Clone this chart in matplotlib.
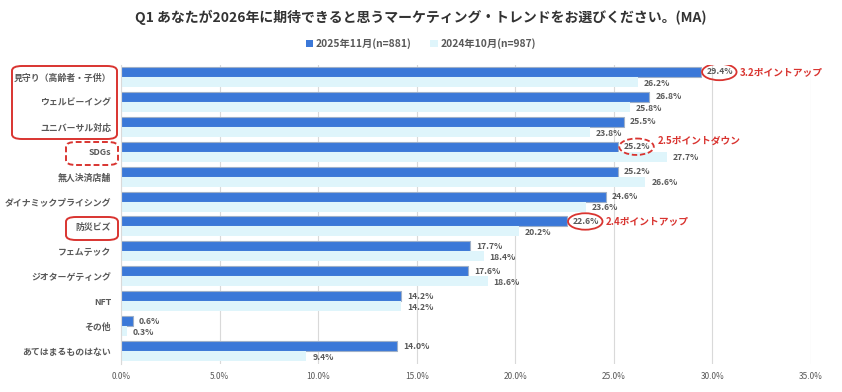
import matplotlib
matplotlib.use("Agg")
import matplotlib.pyplot as plt
from matplotlib.patches import Ellipse, FancyBboxPatch, Patch

plt.rcParams['font.family'] = ['Noto Sans CJK JP', 'DejaVu Sans']

categories = ["見守り（高齢者・子供）", "ウェルビーイング", "ユニバーサル対応", "SDGs", "無人決済店舗",
              "ダイナミックプライシング", "防災ビズ", "フェムテック", "ジオターゲティング", "NFT",
              "その他", "あてはまるものはない"]
v2025 = [29.4, 26.8, 25.5, 25.2, 25.2, 24.6, 22.6, 17.7, 17.6, 14.2, 0.6, 14.0]
v2024 = [26.2, 25.8, 23.8, 27.7, 26.6, 23.6, 20.2, 18.4, 18.6, 14.2, 0.3, 9.4]
series_names = ["2025年11月(n=881)", "2024年10月(n=987)"]
xticks = [0, 5, 10, 15, 20, 25, 30, 35]
title = "Q1 あなたが2026年に期待できると思うマーケティング・トレンドをお選びください。(MA)"
annotations = {0: "3.2ポイントアップ", 3: "2.5ポイントダウン", 6: "2.4ポイントアップ"}
dashed_idx = {3}

BLUE = "#3b78d8"
LIGHT = "#dff5fb"
RED = "#d93430"
GREY = "#595959"

fig = plt.figure(figsize=(8.42, 3.92), dpi=100)
ax = fig.add_axes([121/842, 1-363.5/392, 690/842, 299/392])

y = list(range(len(categories)))
h = 0.4
ax.barh([i - h/2 for i in y], v2025, height=h, color=BLUE, edgecolor="#9fb0c8", linewidth=0.8, zorder=3)
ax.barh([i + h/2 for i in y], v2024, height=h, color=LIGHT, linewidth=0, zorder=3)

for i in y:
    ax.text(v2025[i] + 0.3, i - h/2, f"{v2025[i]:.1f}%", va="center", ha="left",
            fontsize=6.2, color=GREY, fontweight="bold", zorder=5)
    ax.text(v2024[i] + 0.3, i + h/2 + 0.05, f"{v2024[i]:.1f}%", va="center", ha="left",
            fontsize=6.2, color=GREY, fontweight="bold", zorder=5)

for i, txt in annotations.items():
    ls = (0, (3, 1.5)) if i in dashed_idx else "-"
    e = Ellipse((v2025[i] + 0.95, i - h/2), width=1.75, height=0.66, fill=False,
                edgecolor=RED, linewidth=1.3, linestyle=ls, zorder=6)
    ax.add_patch(e)
    ty = i - h/2 if i != 3 else i - 0.45
    tx = v2025[i] + 2.0
    ax.text(tx, ty, txt, va="center", ha="left", fontsize=7, color=RED, fontweight="bold", zorder=6)

ax.set_xlim(0, 35)
ax.set_ylim(len(categories) - 0.5, -0.5)
ax.set_xticks(xticks)
ax.set_xticklabels([f"{t:.1f}%" for t in xticks], fontsize=6, color=GREY)
ax.tick_params(axis="both", length=0)
ax.tick_params(axis="x", pad=6)
ax.set_yticks(y)
ax.set_yticklabels(categories, fontsize=6.4, color=GREY, fontweight="bold")
ax.tick_params(axis="y", pad=7)
ax.grid(axis="x", color="#d9d9d9", linewidth=0.8, zorder=0)
for s in ["top", "right", "bottom"]:
    ax.spines[s].set_visible(False)
ax.spines["left"].set_color("#d9d9d9")
ax.spines["left"].set_zorder(4)

# red label boxes (figure pixel coordinates)
def fbox(x0, y0, x1, y1, dashed=False):
    p = FancyBboxPatch((x0/842, 1 - y1/392), (x1 - x0)/842, (y1 - y0)/392,
                       boxstyle="round,pad=0,rounding_size=0.012", transform=fig.transFigure,
                       fill=False, edgecolor=RED, linewidth=1.4,
                       linestyle=(0, (3, 1.5)) if dashed else "-", clip_on=False)
    fig.add_artist(p)

fbox(12, 66, 117, 139)
fbox(66, 142, 118, 165, dashed=True)
fbox(66, 217, 118, 240)

fig.text(0.5, 1 - 17/392, title, ha="center", va="center", fontsize=10, fontweight="bold", color="#333333")
handles = [Patch(facecolor=BLUE), Patch(facecolor=LIGHT)]
fig.legend(handles, series_names, loc="center", bbox_to_anchor=(0.5, 1 - 44/392), ncol=2,
           frameon=False, handlelength=0.7, handleheight=0.7, handletextpad=0.3,
           columnspacing=1.8, labelcolor=GREY, prop={'weight': 'bold', 'size': 7.4})

fig.savefig("out.png", dpi=100)
